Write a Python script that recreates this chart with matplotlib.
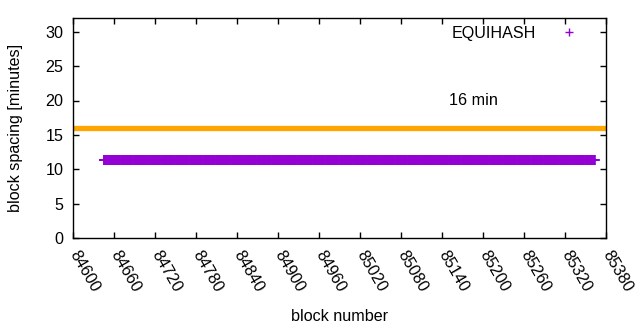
import numpy as np
import matplotlib
matplotlib.use("Agg")
import matplotlib.pyplot as plt

plt.rcParams['font.family'] = ['Liberation Sans', 'DejaVu Sans']

# data: block spacing is ~11.4 min for blocks 84645..85364
block_first = 84645
block_last = 85364
blocks = np.arange(block_first, block_last + 1)
spacing_value = 11.4
spacing = np.full(blocks.shape, spacing_value)

target_minutes = 16
target_label = "16 min"
series_label = "EQUIHASH"
xticks = list(range(84600, 85381, 60))
yticks = [0, 5, 10, 15, 20, 25, 30]

FS = 11.6
fig = plt.figure(figsize=(6.4, 3.3), dpi=100)
ax = fig.add_axes([73/640, 1 - 238/330, (606-73)/640, (238-18)/330])

ax.axhline(target_minutes, color='#ffa500', lw=3.8, zorder=1)
ax.plot(blocks, spacing, linestyle='none', marker='+', ms=6.5, mew=1.2,
        color='#9400d3', label=series_label, zorder=2)
ax.text(85150, 20, target_label, fontsize=FS, ha='left', va='center')

ax.set_xlim(84600, 85380)
ax.set_ylim(0, 32)
ax.set_xticks(xticks)
ax.set_yticks(yticks)
ax.set_xticklabels([str(t) for t in xticks], rotation=-60, ha='left', va='center',
                   rotation_mode='anchor', fontsize=FS)
ax.tick_params(axis='y', labelsize=FS, pad=7)
ax.tick_params(axis='x', pad=10)
ax.tick_params(direction='in', top=True, right=True, length=4, width=1)
for s in ax.spines.values():
    s.set_linewidth(1)
ax.set_xlabel("block number", fontsize=FS, labelpad=10)
ax.set_ylabel("block spacing [minutes]", fontsize=FS, labelpad=16)

leg = ax.legend(loc='upper right', frameon=False, markerfirst=False,
                fontsize=FS, handlelength=2.5, handletextpad=0.75,
                bbox_to_anchor=(0.995, 1.03))
for h in leg.legend_handles:
    h.set_markersize(6)
    h.set_markeredgewidth(1)

fig.savefig("out.png", dpi=100)
